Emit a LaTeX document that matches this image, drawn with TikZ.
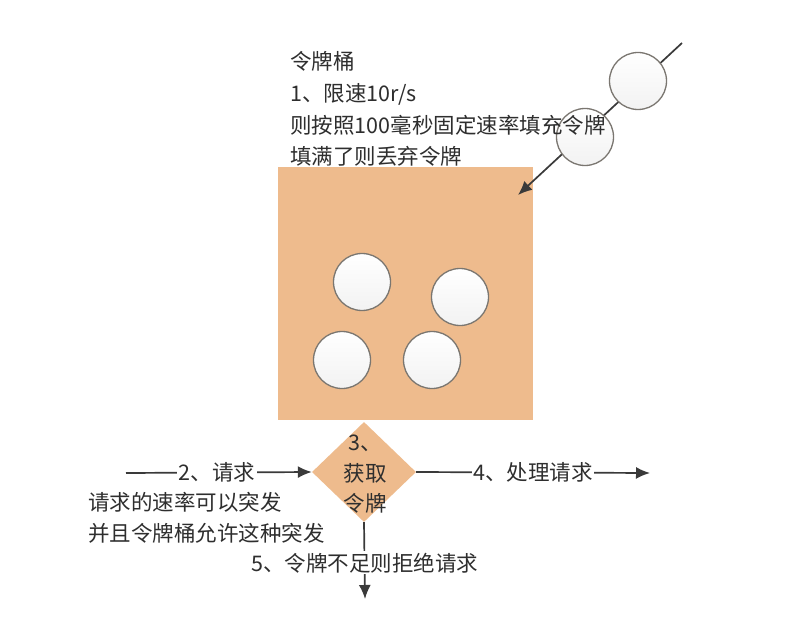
\documentclass[tikz,border=0pt]{standalone}
\usepackage{fontspec}
\setmainfont{Noto Sans CJK SC}
\usetikzlibrary{shapes.geometric,arrows.meta}
\definecolor{txt}{HTML}{2E2E2E}
\definecolor{ln}{HTML}{3A3A3A}
\definecolor{buck}{RGB}{238,187,141}
\definecolor{rim}{HTML}{7A7670}
\begin{document}
\begin{tikzpicture}[x=1pt,y=-1pt,
  every node/.style={text=txt, font=\fontsize{21.5}{26}\selectfont},
  arr/.style={draw=ln, line width=1.7pt, -{Latex[length=14pt,width=12pt]}},
  ball/.style={circle, draw=rim, line width=1.3pt, minimum size=57pt, inner sep=0pt, top color=white, bottom color=gray!10},
  lbl/.style={fill=white, inner sep=1.5pt},
  tl/.style={anchor=base west, inner sep=0pt},
  dl/.style={anchor=base, inner sep=0pt}]
\useasboundingbox[fill=white] (0,0) rectangle (786,620);

% bucket
\node[fill=buck, minimum width=255pt, minimum height=253pt, inner sep=0pt] (bucket) at (405.5,293.5) {};

% incoming tokens
\coordinate (src) at (682,43);
\coordinate (drop) at (518,195);
\draw[arr] (src) -- (drop);
\node[ball] (ta) at (638,81) {};
\node[ball] (tb) at (585,137) {};

% heading text
\node[tl] (t1) at (290,70) {令牌桶};
\node[tl] (t2) at (290,102) {1、限速10r/s};
\node[tl] (t3) at (290,134) {则按照100毫秒固定速率填充令牌};
\node[tl] (t4) at (290,165) {填满了则丢弃令牌};

% tokens in bucket
\node[ball] (b1) at (362,282) {};
\node[ball] (b2) at (460,297) {};
\node[ball] (b3) at (342,360) {};
\node[ball] (b4) at (432,360) {};

% decision
\node[diamond, fill=buck, minimum width=104pt, minimum height=100pt, inner sep=0pt] (dia) at (364,472) {};
\node[dl] (d1) at (365,450) {3、};
\node[dl] (d2) at (365,481) {获取};
\node[dl] (d3) at (365,511) {令牌};

% flows
\coordinate (lstart) at (126,473);
\coordinate (rend) at (650,473);
\coordinate (dend) at (365,599);
\draw[arr] (lstart) -- node[lbl, pos=0.49] (req) {2、请求} (dia.west);
\draw[arr] (dia.east) -- node[lbl, pos=0.5] (proc) {4、处理请求} (rend);
\draw[arr] (dia.south) -- node[lbl, pos=0.53] (rej) {5、令牌不足则拒绝请求} (dend);

% notes
\node[tl] (n1) at (88,510) {请求的速率可以突发};
\node[tl] (n2) at (88,541) {并且令牌桶允许这种突发};
\end{tikzpicture}
\end{document}
